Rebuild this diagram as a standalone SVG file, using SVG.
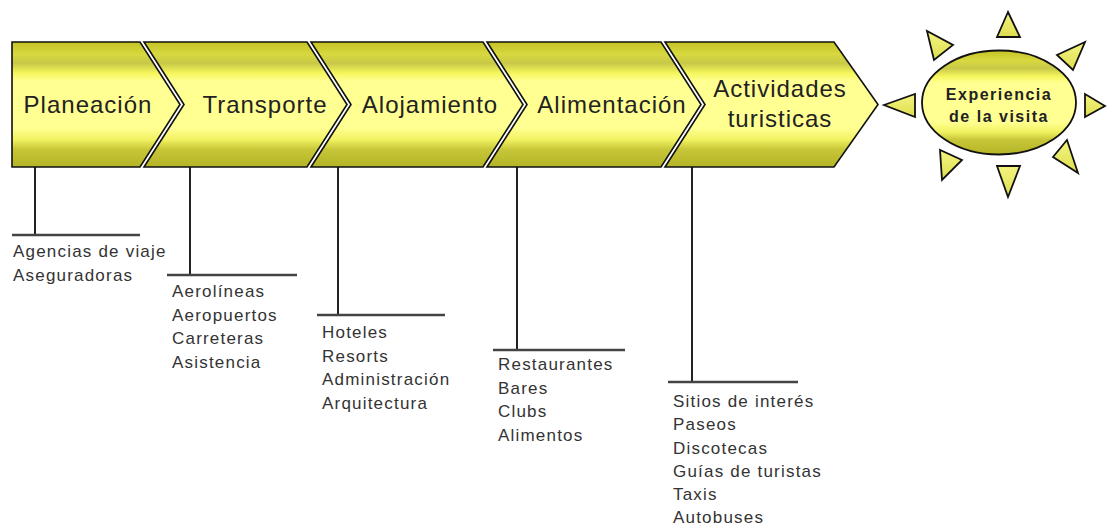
<svg xmlns="http://www.w3.org/2000/svg" width="1107" height="525" viewBox="0 0 1107 525">
  <defs>
    <linearGradient id="band" x1="0" y1="0" x2="0" y2="1">
      <stop offset="0" stop-color="#c4c426"/>
      <stop offset="0.1" stop-color="#d8d840"/>
      <stop offset="0.17" stop-color="#c8c848"/>
      <stop offset="0.25" stop-color="#f6f65c"/>
      <stop offset="0.31" stop-color="#ffff92"/>
      <stop offset="0.69" stop-color="#ffff92"/>
      <stop offset="0.78" stop-color="#f2f262"/>
      <stop offset="0.86" stop-color="#c6c638"/>
      <stop offset="1" stop-color="#b4b426"/>
    </linearGradient>
    <linearGradient id="ray" x1="0" y1="0" x2="0" y2="1">
      <stop offset="0" stop-color="#f4f480"/>
      <stop offset="1" stop-color="#dede50"/>
    </linearGradient>
  </defs>
  <style>
    .chev { fill: url(#band); stroke: #111; stroke-width: 1.6; stroke-linejoin: miter; }
    .lbl { font-family: "Liberation Sans", Arial, sans-serif; font-size: 24px; letter-spacing: 1px; fill: #222; text-anchor: middle; }
    .sun { font-family: "Liberation Sans", Arial, sans-serif; font-size: 16px; font-weight: bold; letter-spacing: 1.5px; fill: #222; text-anchor: middle; }
    .item { font-family: "Liberation Sans", Arial, sans-serif; font-size: 17px; letter-spacing: 1.2px; fill: #333; }
    .ray { fill: url(#ray); stroke: #111; stroke-width: 1.8; stroke-linejoin: miter; }
    .vline { stroke: #222; stroke-width: 2; fill: none; }
    .hline { stroke: #444; stroke-width: 2.5; fill: none; }
  </style>

  <g id="connectors">
    <line class="vline" x1="35" y1="167" x2="35" y2="235"/>
    <line class="hline" x1="12" y1="235" x2="140" y2="235"/>
    <line class="vline" x1="190" y1="167" x2="190" y2="275"/>
    <line class="hline" x1="167" y1="275" x2="297" y2="275"/>
    <line class="vline" x1="338" y1="167" x2="338" y2="315"/>
    <line class="hline" x1="317" y1="315" x2="445" y2="315"/>
    <line class="vline" x1="517" y1="167" x2="517" y2="350"/>
    <line class="hline" x1="493" y1="350" x2="625" y2="350"/>
    <line class="vline" x1="692" y1="167" x2="692" y2="382"/>
    <line class="hline" x1="668" y1="382" x2="798" y2="382"/>
  </g>

  <g id="planeacion">
    <path class="chev" d="M12,42 L140,42 L180,104.5 L140,167 L12,167 Z"/>
    <text class="lbl" x="88" y="113">Planeación</text>
  </g>
  <g id="transporte">
    <path class="chev" d="M144,42 L307,42 L347,104.5 L307,167 L144,167 L184,104.5 Z"/>
    <text class="lbl" x="265" y="113">Transporte</text>
  </g>
  <g id="alojamiento">
    <path class="chev" d="M311,42 L483,42 L523,104.5 L483,167 L311,167 L351,104.5 Z"/>
    <text class="lbl" x="430" y="113">Alojamiento</text>
  </g>
  <g id="alimentacion">
    <path class="chev" d="M487,42 L661,42 L701,104.5 L661,167 L487,167 L527,104.5 Z"/>
    <text class="lbl" x="612" y="113">Alimentación</text>
  </g>
  <g id="actividades">
    <path class="chev" d="M665,42 L834,42 L878,104.5 L834,167 L665,167 L705,104.5 Z"/>
    <text class="lbl" x="780" y="97">Actividades</text>
    <text class="lbl" x="780" y="127">turisticas</text>
  </g>

  <g id="experiencia">
    <polygon class="ray" points="1008,12 997,37 1020,37"/>
    <polygon class="ray" points="1008,197 997,166 1020,166"/>
    <polygon class="ray" points="884,105 915,94 915,117"/>
    <polygon class="ray" points="1105,106 1085,94 1085,117"/>
    <polygon class="ray" points="927,31 934,60 953,45"/>
    <polygon class="ray" points="1085,42 1057,55 1073,70"/>
    <polygon class="ray" points="942,180 940,150 962,160"/>
    <polygon class="ray" points="1078,173 1053,157 1067,140"/>
    <ellipse cx="999" cy="102.5" rx="77" ry="52" fill="url(#band)" stroke="#111" stroke-width="1.8"/>
    <text class="sun" x="999" y="100">Experiencia</text>
    <text class="sun" x="999" y="122">de la visita</text>
  </g>

  <g id="lista-planeacion">
    <text class="item" x="13" y="257">Agencias de viaje</text>
    <text class="item" x="13" y="281">Aseguradoras</text>
  </g>
  <g id="lista-transporte">
    <text class="item" x="172" y="297">Aerolíneas</text>
    <text class="item" x="172" y="320.5">Aeropuertos</text>
    <text class="item" x="172" y="344">Carreteras</text>
    <text class="item" x="172" y="367.5">Asistencia</text>
  </g>
  <g id="lista-alojamiento">
    <text class="item" x="322" y="338">Hoteles</text>
    <text class="item" x="322" y="361.5">Resorts</text>
    <text class="item" x="322" y="385">Administración</text>
    <text class="item" x="322" y="408.5">Arquitectura</text>
  </g>
  <g id="lista-alimentacion">
    <text class="item" x="498" y="370">Restaurantes</text>
    <text class="item" x="498" y="393.5">Bares</text>
    <text class="item" x="498" y="417">Clubs</text>
    <text class="item" x="498" y="440.5">Alimentos</text>
  </g>
  <g id="lista-actividades">
    <text class="item" x="673" y="407">Sitios de interés</text>
    <text class="item" x="673" y="430">Paseos</text>
    <text class="item" x="673" y="453.5">Discotecas</text>
    <text class="item" x="673" y="477">Guías de turistas</text>
    <text class="item" x="673" y="500">Taxis</text>
    <text class="item" x="673" y="523">Autobuses</text>
  </g>
</svg>
